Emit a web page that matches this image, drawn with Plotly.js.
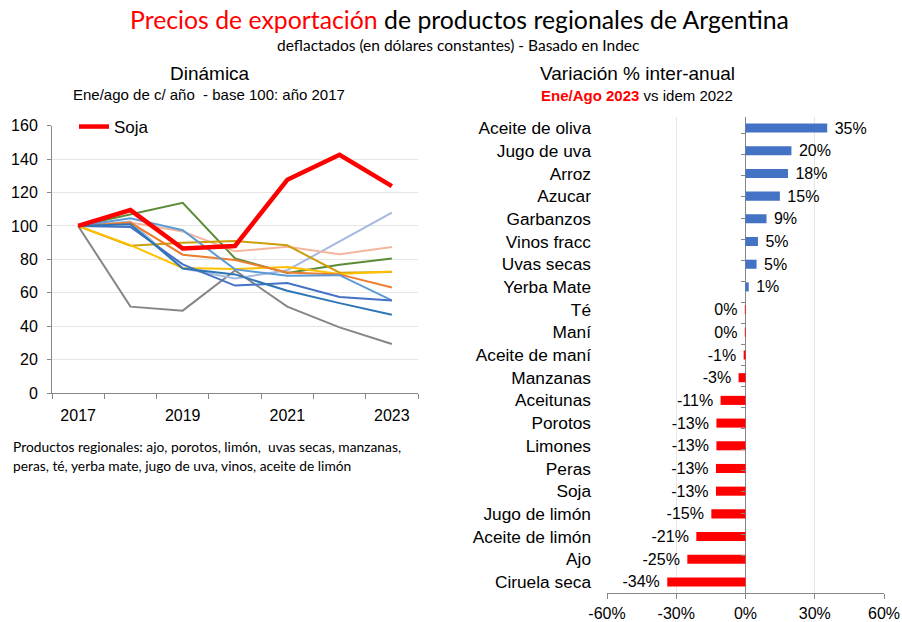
<!DOCTYPE html>
<html>
<head>
<meta charset="utf-8">
<script src="https://cdn.plot.ly/plotly-3.0.1.min.js"></script>
<style>html,body{margin:0;padding:0;background:#fff;}#chart{width:902px;height:622px;}</style>
</head>
<body>
<div id="chart"></div>
<script>
// ---------- Data: left chart (index base 100 = 2017) ----------
const years = [2017, 2018, 2019, 2020, 2021, 2022, 2023];
const soja = [100, 109.5, 86.5, 88, 127.6, 142.6, 123.8];
const serieVerde = [100, 107, 113.8, 80.6, 71.8, 76.7, 80.5];
const serieGris = [100, 51.7, 49.3, 73.3, 51.7, 39.3, 29.3];
const serieLavanda = [100, 102.6, 74.7, 68.5, 73.5, 90.6, 108];
const serieDurazno = [100, 102, 96.7, 84.8, 87.6, 83, 87.4];
const serieDorada = [100, 88.2, 90, 91, 88.4, 72, 72.5];
const serieAmarilla = [100, 88.5, 74.8, 74.2, 75.4, 71.3, 72.8];
const serieNaranja = [100, 102, 82.8, 79.6, 72.2, 71, 63.2];
const serieCeleste = [100, 104.6, 97.4, 74, 70.2, 70.5, 55.5];
const serieAzul = [100, 99.4, 77, 64.3, 65.8, 57.5, 55.3];
const serieAcero = [100, 101, 74.5, 71, 61.2, 53.8, 46.9];
const xTickYears = [2017, 2019, 2021, 2023];

// ---------- Data: right chart (variación % inter-anual) ----------
const productos = ["Aceite de oliva", "Jugo de uva", "Arroz", "Azucar", "Garbanzos", "Vinos fracc",
  "Uvas secas", "Yerba Mate", "Té", "Maní", "Aceite de maní", "Manzanas", "Aceitunas", "Porotos",
  "Limones", "Peras", "Soja", "Jugo de limón", "Aceite de limón", "Ajo", "Ciruela seca"];
const variacion = [0.354, 0.199, 0.184, 0.149, 0.091, 0.054, 0.048, 0.014, -0.003, -0.003, -0.008,
  -0.030, -0.108, -0.126, -0.126, -0.128, -0.128, -0.148, -0.213, -0.252, -0.339];
const xTickPct = [-0.6, -0.3, 0, 0.3, 0.6];
const xTickPctText = ["-60%", "-30%", "0%", "30%", "60%"];

// ---------- Styles ----------
const lineSeries = [
  {name: "Uvas secas", y: serieVerde, color: "#5B8C35"},
  {name: "Ajo", y: serieGris, color: "#868686"},
  {name: "Jugo de uva", y: serieLavanda, color: "#A6B8E0"},
  {name: "Vinos", y: serieDurazno, color: "#F4B69D"},
  {name: "Té", y: serieDorada, color: "#CC9E0A"},
  {name: "Yerba mate", y: serieAmarilla, color: "#FFC000"},
  {name: "Porotos", y: serieNaranja, color: "#ED7D31"},
  {name: "Aceite de limón", y: serieCeleste, color: "#5B9BD5"},
  {name: "Manzanas", y: serieAzul, color: "#4472C4"},
  {name: "Peras", y: serieAcero, color: "#2E75B6"}
];

const NBSP = "\u00a0";
const H = 622, W = 902;
const py = v => 1 - v / H;
const px = v => v / W;
const ARIAL = "Liberation Sans, Arial, sans-serif";

const traces = lineSeries.map(s => ({
  type: "scatter", mode: "lines", x: years, y: s.y, name: s.name,
  line: {color: s.color, width: 2}, showlegend: false, xaxis: "x", yaxis: "y", hoverinfo: "skip"
}));
traces.push({
  type: "scatter", mode: "lines", x: years, y: soja, name: "Soja",
  line: {color: "#FF0000", width: 4.5}, showlegend: true, xaxis: "x", yaxis: "y"
});

traces.push({
  type: "bar", orientation: "h", y: productos, x: variacion, xaxis: "x2", yaxis: "y2",
  marker: {color: variacion.map(v => v >= 0 ? "#4472C4" : "#FF0000")},
  width: 0.4,
  text: variacion.map(v => {
    const r = Math.round(v * 100);
    const s = (r === 0 ? 0 : r) + "%";
    return v >= 0 ? NBSP + s : s + NBSP;
  }),
  textposition: "outside", cliponaxis: false, constraintext: "none",
  textfont: {family: ARIAL, size: 16, color: "#000"},
  showlegend: false
});
// helper (invisible) trace for category ticks along the 0% line
traces.push({
  type: "scatter", mode: "markers", y: productos, x: productos.map(() => 0),
  xaxis: "x2", yaxis: "y3", marker: {opacity: 0}, showlegend: false, hoverinfo: "skip"
});

const axFont = {family: ARIAL, size: 16, color: "#000"};
const axColor = "#868686";
const gridColor = "#E6E6E6";

function note(text, x, y, size, family, xanchor) {
  return {text: text, x: px(x), y: py(y), xref: "paper", yref: "paper",
    xanchor: xanchor || "center", yanchor: "middle", showarrow: false,
    font: {family: family, size: size, color: "#000"}};
}

const layout = {
  width: W, height: H,
  margin: {l: 0, r: 0, t: 0, b: 0},
  paper_bgcolor: "#fff", plot_bgcolor: "rgba(0,0,0,0)",
  showlegend: true,
  legend: {x: px(74), y: py(109), xanchor: "left", yanchor: "top", bgcolor: "rgba(0,0,0,0)",
    font: {family: ARIAL, size: 17, color: "#000"},
    itemwidth: 30, tracegroupgap: 0},
  xaxis: {
    domain: [px(52), px(418)], range: [2016.5, 2023.5], anchor: "y",
    tickmode: "array", tickvals: xTickYears, ticktext: xTickYears.map(String),
    ticks: "", showgrid: false, zeroline: false,
    showline: true, linecolor: axColor, linewidth: 1,
    tickfont: axFont, ticklabelstandoff: 8,
    minor: {tick0: 2016.5, dtick: 1, ticks: "outside", ticklen: 5, tickcolor: axColor, showgrid: false}
  },
  yaxis: {
    domain: [py(393), py(125.7)], range: [0, 160], anchor: "x",
    tickmode: "linear", tick0: 0, dtick: 20,
    ticks: "outside", ticklen: 4, tickcolor: axColor,
    showline: true, linecolor: axColor, linewidth: 1,
    showgrid: true, gridcolor: gridColor, zeroline: false,
    tickfont: axFont, ticklabelstandoff: 6
  },
  xaxis2: {
    domain: [px(607), px(884)], range: [-0.6, 0.6], anchor: "y2",
    tickmode: "array", tickvals: xTickPct, ticktext: xTickPctText,
    ticks: "outside", ticklen: 5, tickcolor: axColor,
    showline: true, linecolor: axColor, linewidth: 1,
    showgrid: true, gridcolor: gridColor,
    zeroline: true, zerolinecolor: axColor, zerolinewidth: 1,
    tickfont: axFont, ticklabelstandoff: 0
  },
  yaxis2: {
    domain: [py(593.3), py(116.7)], anchor: "x2", type: "category",
    categoryorder: "array", categoryarray: productos, autorange: "reversed",
    ticks: "", showline: false, showgrid: false, zeroline: false,
    tickfont: {family: ARIAL, size: 17.3, color: "#000"},
    ticklabelstandoff: 15
  },
  yaxis3: {
    overlaying: "y2", anchor: "free", position: px(745), side: "left", type: "category",
    categoryorder: "array", categoryarray: productos, autorange: "reversed",
    ticks: "outside", ticklen: 4, tickcolor: axColor, tickson: "boundaries",
    showticklabels: false, showline: false, showgrid: false, zeroline: false
  },
  annotations: [
    note('<span style="color:#FF0000">Precios de exportación</span> de productos regionales de Argentina', 459, 19, 24.8, "Lato, sans-serif"),
    note("deflactados (en dólares constantes) - Basado en Indec", 458, 45, 15.5, "Lato, sans-serif"),
    note("Dinámica", 210, 73, 19, ARIAL),
    note("Ene/ago de c/ año " + NBSP + "- base 100: año 2017", 209, 94, 15, ARIAL),
    note("Variación % inter-anual", 637, 73, 19, ARIAL),
    note('<b><span style="color:#FF0000">Ene/Ago 2023</span></b> vs idem 2022', 637, 95, 15, ARIAL),
    note("Productos regionales: ajo, porotos, limón, " + NBSP + "uvas secas, manzanas,", 11, 446, 13.8, "Lato, sans-serif", "left"),
    note("peras, té, yerba mate, jugo de uva, vinos, aceite de limón", 11, 465, 13.8, "Lato, sans-serif", "left")
  ]
};

Plotly.newPlot("chart", traces, layout, {staticPlot: true, displayModeBar: false});
</script>
</body>
</html>
